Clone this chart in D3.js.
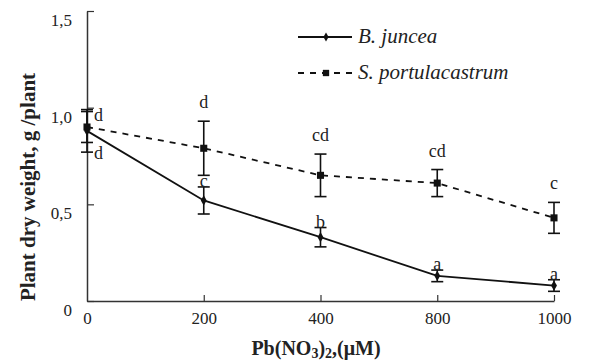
<!DOCTYPE html>
<html>
<head>
<meta charset="utf-8">
<script src="https://cdn.jsdelivr.net/npm/d3@7"></script>
<style>
  body { margin: 0; background: #fff; }
  svg text { font-family: "Liberation Serif", "Times New Roman", serif; fill: #222; }
</style>
</head>
<body>
<div id="chart"></div>
<script>
// Pb(NO3)2 doses (uM), shown as evenly spaced categories
const doses = ["0", "200", "400", "800", "1000"];

// B. juncea: mean dry weight, error, significance letters
const junceaMean = [0.88, 0.52, 0.33, 0.13, 0.08];
const junceaErr = [0.11, 0.07, 0.05, 0.03, 0.03];
const junceaLetters = ["d", "c", "b", "a", "a"];

// S. portulacastrum
const portMean = [0.90, 0.79, 0.65, 0.61, 0.43];
const portErr = [0.08, 0.14, 0.11, 0.07, 0.08];
const portLetters = ["d", "d", "cd", "cd", "c"];

const yTicks = [0, 0.5, 1.0, 1.5];

const width = 594, height = 363;
const margin = {top: 11, right: 40, bottom: 62, left: 87};

const svg = d3.select("#chart")
  .append("svg")
  .attr("width", width)
  .attr("height", height)
  .attr("viewBox", [0, 0, width, height]);

const x = d3.scalePoint(doses, [margin.left, width - margin.right]);
const y = d3.scaleLinear([0, 1.5], [height - margin.bottom, margin.top]);

const fmt = d => d === 0 ? "0" : d3.format(".1f")(d).replace(".", ",");

// axes
const yAxis = svg.append("g")
  .attr("transform", `translate(${margin.left},0)`)
  .call(d3.axisLeft(y).tickValues(yTicks).tickFormat(fmt).tickSizeInner(-7).tickSizeOuter(0).tickPadding(15))
  .attr("font-family", null);
yAxis.selectAll("text").attr("font-size", 17).attr("dy", "0.85em");

const xAxis = svg.append("g")
  .attr("transform", `translate(0,${height - margin.bottom})`)
  .call(d3.axisBottom(x).tickSizeInner(-6).tickSizeOuter(0).tickPadding(11))
  .attr("font-family", null);
xAxis.selectAll("text").attr("font-size", 17);
xAxis.selectAll(".tick").filter(d => d === "0").select("line").remove();

svg.selectAll(".domain").attr("stroke", "#333").attr("stroke-width", 1.5);
svg.selectAll(".tick line").attr("stroke", "#333").attr("stroke-width", 1.2);

// axis titles
svg.append("text")
  .attr("transform", `translate(35,${(margin.top + height - margin.bottom) / 2 + 31}) rotate(-90)`)
  .attr("text-anchor", "middle")
  .attr("font-size", 21)
  .attr("font-weight", "bold")
  .text("Plant dry weight, g /plant");

const xt = svg.append("text")
  .attr("x", 316)
  .attr("y", 355)
  .attr("text-anchor", "middle")
  .attr("font-size", 20)
  .attr("font-weight", "bold");
xt.append("tspan").text("Pb(NO");
xt.append("tspan").attr("font-size", 14).attr("dy", 3).text("3");
xt.append("tspan").attr("dy", -3).text(")");
xt.append("tspan").attr("font-size", 14).attr("dy", 3).text("2");
xt.append("tspan").attr("dy", -3).text(",(\u03bcM)");

const series = [
  {name: "B. juncea", mean: junceaMean, err: junceaErr, letters: junceaLetters, dash: null, marker: "diamond", labelGap: 0},
  {name: "S. portulacastrum", mean: portMean, err: portErr, letters: portLetters, dash: "6,6", marker: "square", labelGap: 13}
];

const line = d3.line().x((d, i) => x(doses[i])).y(d => y(d));
const capW = 6;

for (const s of series) {
  const g = svg.append("g");

  g.append("path")
    .datum(s.mean)
    .attr("fill", "none")
    .attr("stroke", "#111")
    .attr("stroke-width", 1.8)
    .attr("stroke-dasharray", s.dash)
    .attr("d", line);

  const eb = g.selectAll(".eb")
    .data(s.mean.map((m, i) => ({m, e: s.err[i], k: doses[i]})))
    .join("g")
    .attr("stroke", "#111")
    .attr("stroke-width", 1.6);
  eb.append("line")
    .attr("x1", d => x(d.k)).attr("x2", d => x(d.k))
    .attr("y1", d => y(d.m - d.e)).attr("y2", d => y(d.m + d.e));
  eb.append("line")
    .attr("x1", d => x(d.k) - capW).attr("x2", d => x(d.k) + capW)
    .attr("y1", d => y(d.m + d.e)).attr("y2", d => y(d.m + d.e));
  eb.append("line")
    .attr("x1", d => x(d.k) - capW).attr("x2", d => x(d.k) + capW)
    .attr("y1", d => y(d.m - d.e)).attr("y2", d => y(d.m - d.e));

  g.selectAll(".mk")
    .data(s.mean)
    .join("path")
    .attr("transform", (d, i) => `translate(${x(doses[i])},${y(d)})`)
    .attr("d", s.marker === "square"
      ? d3.symbol(d3.symbolSquare, 50)()
      : d3.symbol(d3.symbolDiamond, 30)())
    .attr("fill", "#111");

  // significance letters
  g.selectAll(".lt")
    .data(s.letters)
    .join("text")
    .attr("font-size", 18)
    .attr("text-anchor", (d, i) => i === 0 ? "start" : "middle")
    .attr("x", (d, i) => i === 0 ? x(doses[i]) + 7 : x(doses[i]))
    .attr("y", (d, i) => i === 0
      ? (s.marker === "square" ? y(s.mean[i] + s.err[i]) + 9 : y(s.mean[i] - s.err[i]) + 7)
      : y(s.mean[i] + s.err[i]) - s.labelGap)
    .text(d => d);
}

// legend
const legend = svg.append("g").attr("transform", "translate(298,0)");
series.forEach((s, i) => {
  const ly = 37 + i * 36;
  legend.append("line")
    .attr("x1", 0).attr("x2", 54)
    .attr("y1", ly).attr("y2", ly)
    .attr("stroke", "#111")
    .attr("stroke-width", 1.8)
    .attr("stroke-dasharray", s.dash);
  legend.append("path")
    .attr("transform", `translate(28,${ly})`)
    .attr("d", s.marker === "square"
      ? d3.symbol(d3.symbolSquare, 40)()
      : d3.symbol(d3.symbolDiamond, 24)())
    .attr("fill", "#111");
  legend.append("text")
    .attr("x", 60).attr("y", ly + 6)
    .attr("font-size", 21)
    .attr("font-style", "italic")
    .text(s.name);
});
</script>
</body>
</html>
